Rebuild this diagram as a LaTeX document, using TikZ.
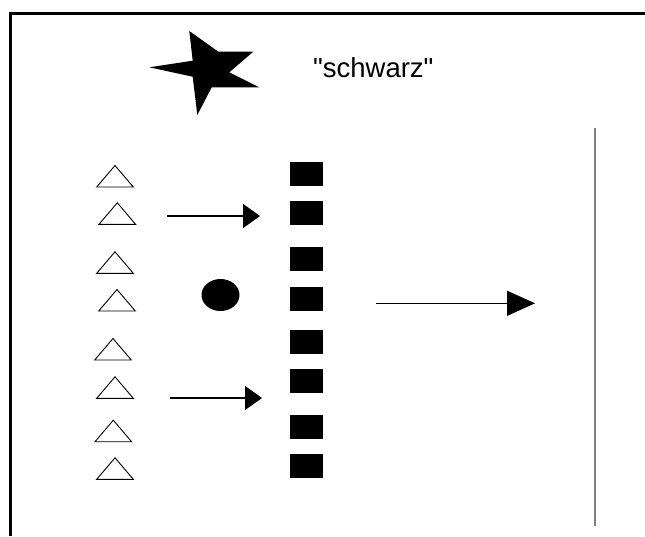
\documentclass[tikz,border=0pt]{standalone}
\usepackage{fontspec}
\setmainfont{Liberation Sans}[Ligatures=TeXOff]
\usetikzlibrary{arrows.meta,shapes.geometric}
\tikzset{
  tri/.style={draw=black,line width=0.9pt,line join=miter},
  blk/.style={rectangle,fill=black,draw=none,minimum width=33pt,minimum height=24pt,inner sep=0pt},
  arr/.style={draw=black,line width=1.3pt,-{Triangle[length=17pt,width=24pt]}},
  bigarr/.style={draw=black,line width=1.3pt,-{Triangle[length=28pt,width=25pt]}},
  frame/.style={draw=black,line width=3pt},
}
\begin{document}
\begin{tikzpicture}[x=1pt,y=-1pt]
\useasboundingbox (0,0) rectangle (645,536);
\fill[white] (0,0) rectangle (645,536);
% frame (top and left)
\draw[frame] (10,536) -- (10,13) -- (645,13);
% star
\fill[black] (189.3,31) -- (218.3,51.7) -- (253.3,51.7) -- (229.3,72.3) -- (259.3,87.3)
  -- (211.7,87.3) -- (197.3,115) -- (192.7,76.7) -- (149.3,67.3) -- (192.7,60.7) -- cycle;
% label
\node[anchor=base,inner sep=0pt,font=\fontsize{27.5pt}{30pt}\selectfont] (lbl) at (373.3,77.3) {"schwarz"};
% triangles
\foreach \cx/\yb in {115/187, 117.3/224.3, 115/273.3, 117/311, 113/360, 115/398.3, 113.3/441.7, 115/479.3}{
  \draw[tri] (\cx-18.3,\yb) -- (\cx,\yb-21.5) -- (\cx+18.3,\yb) -- cycle;
}
% squares
\foreach \i/\yy in {1/174, 2/213, 3/259, 4/299, 5/342, 6/381, 7/427, 8/466}{
  \node[blk] (s\i) at (306,\yy) {};
}
% dot
\node[ellipse,fill=black,minimum width=38pt,minimum height=32pt,inner sep=0pt] (dot) at (220.5,295) {};
% arrows
\coordinate (a1s) at (167,216);
\coordinate (a1e) at (260,216);
\coordinate (a2s) at (170,398);
\coordinate (a2e) at (262,398);
\coordinate (a3s) at (376,303.3);
\coordinate (a3e) at (535,303.3);
\draw[arr] (a1s) -- (a1e);
\draw[arr] (a2s) -- (a2e);
\draw[bigarr] (a3s) -- (a3e);
% vertical line
\coordinate (vt) at (595,128);
\coordinate (vb) at (595,526);
\draw[draw=black!50,line width=1.3pt] (vt) -- (vb);
\end{tikzpicture}
\end{document}
